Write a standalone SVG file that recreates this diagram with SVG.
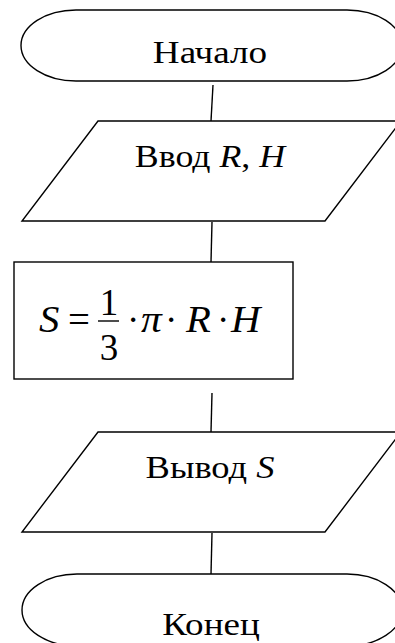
<svg xmlns="http://www.w3.org/2000/svg" width="395" height="643" viewBox="0 0 395 643">
<style>
.s{fill:#fff;stroke:#000;stroke-width:1.4}
.c{stroke:#000;stroke-width:1.4;fill:none}
text{font-family:"Liberation Serif","Times New Roman",serif;fill:#000}
.l{font-size:32px;text-anchor:middle}
.f{font-size:37px}
.i{font-style:italic}
</style>
<rect width="395" height="643" fill="#fff"/>
<g id="connectors">
<line class="c" x1="213" y1="85" x2="211" y2="121"/>
<line class="c" x1="212" y1="222" x2="211" y2="262"/>
<line class="c" x1="212" y1="393" x2="211" y2="432"/>
<line class="c" x1="212" y1="533" x2="211" y2="574"/>
</g>
<g id="start">
<path class="s" d="M76,10 H347 A55,35.5 0 0 1 347,81 H76 A55,35.5 0 0 1 76,10 Z"/>
<text class="l" transform="translate(210,63) scale(1.16,1)">Начало</text>
</g>
<g id="input">
<path class="s" d="M98,121 L401,121 L325,221 L22,221 Z"/>
<text class="l" transform="translate(210,167) scale(1.12,1)">Ввод  <tspan class="i">R</tspan>, <tspan class="i">H</tspan></text>
</g>
<g id="process">
<rect class="s" x="14" y="262" width="279" height="117"/>
<text class="f i" transform="translate(39,332) scale(1.1,1)">S</text>
<text class="f" transform="translate(68,332) scale(1.05,1)">=</text>
<line class="c" x1="98" y1="321" x2="119" y2="321"/>
<text class="f" x="109" y="315" text-anchor="middle">1</text>
<text class="f" x="109" y="360" text-anchor="middle">3</text>
<text class="f" x="127" y="332">·</text>
<text class="f i" transform="translate(141,332) scale(1.12,1)">π</text>
<text class="f" x="165" y="332">·</text>
<text class="f i" transform="translate(186,332) scale(1.1,1)">R</text>
<text class="f" x="217" y="332">·</text>
<text class="f i" transform="translate(231,332) scale(1.1,1)">H</text>
</g>
<g id="output">
<path class="s" d="M98,432 L401,432 L325,532 L22,532 Z"/>
<text class="l" transform="translate(210,478) scale(1.14,1)">Вывод <tspan class="i">S</tspan></text>
</g>
<g id="end">
<path class="s" d="M77,574 H347 A55,36 0 0 1 347,646 H77 A55,36 0 0 1 77,574 Z"/>
<text class="l" transform="translate(211,635) scale(1.16,1)">Конец</text>
</g>
</svg>
